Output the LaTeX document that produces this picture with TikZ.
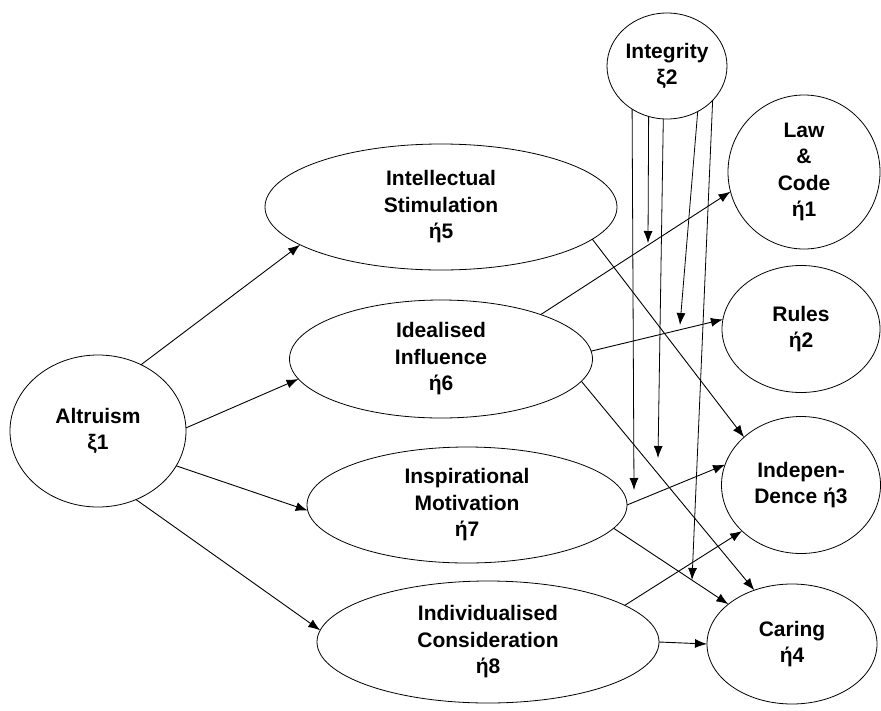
\documentclass[tikz,border=0pt]{standalone}
\usepackage{fontspec}
\setmainfont{Liberation Sans}
\usetikzlibrary{shapes.geometric,arrows.meta}
\begin{document}
\begin{tikzpicture}[x=1pt,y=-1pt,
  lv/.style={draw,ellipse,line width=0.8pt,inner sep=0pt,outer sep=0pt,align=center,
    font=\fontsize{21}{26.5}\selectfont\bfseries},
  arr/.style={line width=0.9pt,-{Latex[length=12pt,width=9pt]}},
  marr/.style={line width=0.8pt,-{Latex[length=12pt,width=9pt]}}]
\useasboundingbox (0,0) rectangle (881,710);
\node[lv,minimum width=176pt,minimum height=152pt] (alt) at (98,431) {Altruism\\ξ1};
\node[lv,minimum width=120pt,minimum height=106pt] (integ) at (667,66) {Integrity\\ξ2};
\node[lv,minimum width=352pt,minimum height=126pt] (intel) at (441,207) {Intellectual\\Stimulation\\ή5};
\node[lv,minimum width=303pt,minimum height=118pt] (ideal) at (441,359) {Idealised\\Influence\\ή6};
\node[lv,minimum width=320pt,minimum height=116pt] (insp) at (467,505) {Inspirational\\Motivation\\ή7};
\node[lv,minimum width=342pt,minimum height=122pt] (indiv) at (488,642) {Individualised\\Consideration\\ή8};
\node[lv,minimum width=152pt,minimum height=154pt] (law) at (804,172) {Law\\\&\\Code\\ή1};
\node[lv,minimum width=158pt,minimum height=127pt] (rules) at (801,329) {Rules\\ή2};
\node[lv,minimum width=159pt,minimum height=137pt] (indep) at (801,485) {Indepen-\\Dence ή3};
\node[lv,minimum width=170pt,minimum height=120pt] (caring) at (792,644) {Caring\\ή4};
% Altruism paths
\draw[arr] (alt.57.5) -- (intel.195.9);
\draw[arr] (alt.2.6) -- (ideal.188.3);
\draw[arr] (alt.-24.8) -- (insp.182.9);
\draw[arr] (alt.-61) -- (indiv.176);
% paths to outcomes
\draw[arr] (intel.-12.8) -- (indep.140);
\draw[arr] (ideal.24.4) -- (law.195.4);
\draw[arr] (ideal.3.8) -- (rules.173.7);
\draw[arr] (ideal.-9.7) -- (caring.125);
\draw[arr] (insp.0.7) -- (indep.165);
\draw[arr] (insp.-9.3) -- (caring.148.5);
\draw[arr] (indiv.15.4) -- (indep.218.8);
\draw[arr] (indiv.east) -- (caring.west);
% moderating arrows from Integrity
\coordinate (m1) at (634,490);
\coordinate (m2) at (648,243);
\coordinate (m3) at (658,458);
\coordinate (m4) at (680,325);
\coordinate (m5) at (692,580);
\draw[marr] (integ.-129) -- (m1);
\draw[marr] (integ.-110.8) -- (m2);
\draw[marr] (integ.-94.3) -- (m3);
\draw[marr] (integ.-56.9) -- (m4);
\draw[marr] (integ.-37.9) -- (m5);
\end{tikzpicture}
\end{document}
